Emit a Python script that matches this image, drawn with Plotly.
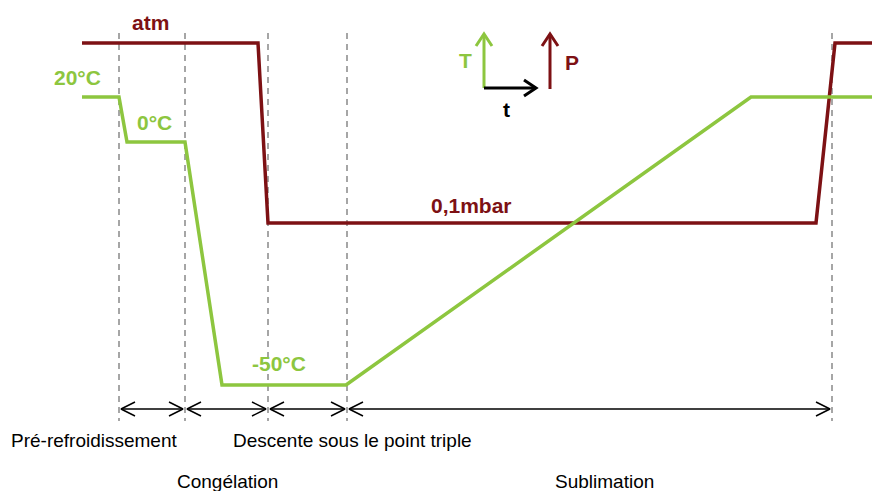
import plotly.graph_objects as go

# ---- schematic data (time position, level position) ----
temp_time = [82, 119, 127, 185, 222, 346, 751, 872]
temp_level = [97, 97, 142, 142, 385, 385, 97, 97]
press_time = [82, 258, 268, 816, 835, 872]
press_level = [43, 43, 223, 223, 43, 43]

phase_bounds = [119, 185, 268, 347, 832]
phase_names = ["Pré-refroidissement", "Congélation", "Descente sous le point triple", "Sublimation"]
phase_label_x = [94, 227, 352, 604]
phase_label_y = [440, 481, 440, 481]

value_labels = ["atm", "20°C", "0°C", "-50°C", "0,1mbar"]
value_label_x = [150, 77, 154, 279, 471]
value_label_y = [22, 77, 122, 363, 205]
value_label_color = ["red", "green", "green", "green", "red"]

GREEN = "#8DC63F"
RED = "#7D1114"
GRAY = "#A6A6A6"
FONT = "Arial, Liberation Sans, sans-serif"

fig = go.Figure()

# dashed phase separators
dx, dy = [], []
for b in phase_bounds:
    dx += [b, b, None]
    dy += [33, 421, None]
fig.add_trace(go.Scatter(x=dx, y=dy, mode="lines",
                         line=dict(color=GRAY, width=2, dash="6px,5px"),
                         hoverinfo="skip"))

# pressure and temperature curves
fig.add_trace(go.Scatter(x=press_time, y=press_level, mode="lines",
                         line=dict(color=RED, width=3.5), hoverinfo="skip"))
fig.add_trace(go.Scatter(x=temp_time, y=temp_level, mode="lines",
                         line=dict(color=GREEN, width=3.5), hoverinfo="skip"))

# double-headed phase arrows with open heads
ay = 409
hl, hw = 14, 7
ax_, ay_ = [], []
for a, b in zip(phase_bounds[:-1], phase_bounds[1:]):
    a1, b1 = a + 2, b - 2
    ax_ += [a1, b1, None]
    ay_ += [ay, ay, None]
    ax_ += [a1 + hl, a1, a1 + hl, None]
    ay_ += [ay - hw, ay, ay + hw, None]
    ax_ += [b1 - hl, b1, b1 - hl, None]
    ay_ += [ay - hw, ay, ay + hw, None]
fig.add_trace(go.Scatter(x=ax_, y=ay_, mode="lines",
                         line=dict(color="black", width=1.5), hoverinfo="skip"))

# legend axes icon
def up_arrow(x, y0, y1, color):
    fig.add_trace(go.Scatter(x=[x, x, None, x - 8, x, x + 8], y=[y0, y1, None, y1 + 12, y1, y1 + 12],
                             mode="lines", line=dict(color=color, width=3), hoverinfo="skip"))

up_arrow(484, 88, 34, GREEN)
up_arrow(550, 89, 34, RED)
fig.add_trace(go.Scatter(x=[484, 536, None, 524, 536, 524], y=[88, 88, None, 80, 88, 96],
                         mode="lines", line=dict(color="black", width=3), hoverinfo="skip"))

ann = []
for txt, x, y, c in zip(value_labels, value_label_x, value_label_y, value_label_color):
    ann.append(dict(x=x, y=y, text="<b>%s</b>" % txt, showarrow=False,
                    font=dict(family=FONT, size=21, color=GREEN if c == "green" else RED)))
for txt, x, y in zip(phase_names, phase_label_x, phase_label_y):
    ann.append(dict(x=x, y=y, text=txt, showarrow=False,
                    font=dict(family=FONT, size=19, color="black")))
ann.append(dict(x=465, y=60, text="<b>T</b>", showarrow=False, font=dict(family=FONT, size=21, color=GREEN)))
ann.append(dict(x=572, y=62, text="<b>P</b>", showarrow=False, font=dict(family=FONT, size=21, color=RED)))
ann.append(dict(x=506, y=109, text="<b>t</b>", showarrow=False, font=dict(family=FONT, size=21, color="black")))

fig.update_layout(
    width=872, height=491,
    margin=dict(l=0, r=0, t=0, b=0),
    paper_bgcolor="white", plot_bgcolor="white",
    showlegend=False,
    xaxis=dict(range=[0, 872], visible=False, fixedrange=True),
    yaxis=dict(range=[491, 0], visible=False, fixedrange=True),
    annotations=ann,
)

fig.write_html("out.html", post_script="document.body.style.margin='0';",
               config={"displayModeBar": False})
